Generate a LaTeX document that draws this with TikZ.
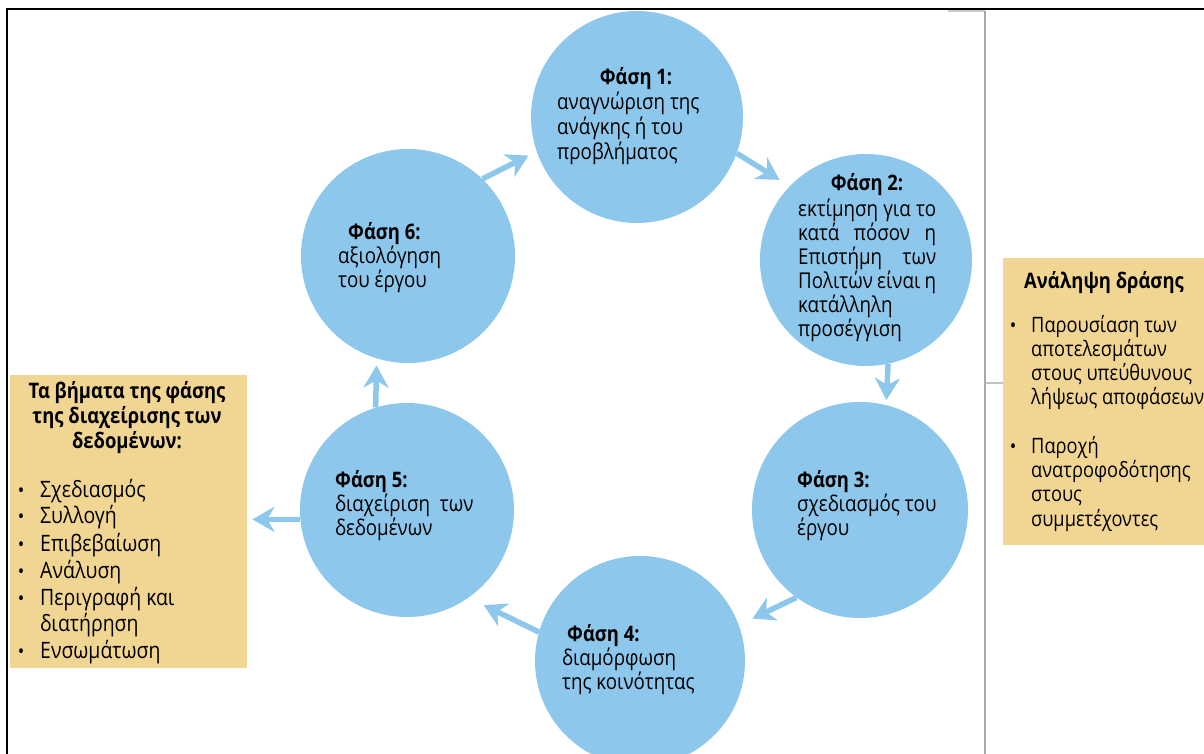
\documentclass[tikz,border=0pt]{standalone}
\usepackage{fontspec}
\setmainfont[FakeStretch=0.86]{Open Sans}
\usetikzlibrary{arrows.meta}
\definecolor{cblue}{RGB}{141,199,236}
\definecolor{boxy}{RGB}{241,213,146}
\definecolor{frameg}{RGB}{168,168,168}
\begin{document}
\begin{tikzpicture}[x=1pt,y=-1pt,
  phase/.style={circle,fill=cblue,inner sep=0pt,minimum size=#1},
  ybox/.style={rectangle,fill=boxy,inner sep=0pt,anchor=north west},
  ctext/.style={font=\fontsize{21.8}{24}\selectfont,inner sep=0pt,anchor=base west},
  ctitle/.style={font=\bfseries\fontsize{21.4}{24}\selectfont,inner sep=0pt,anchor=base west},
  btext/.style={font=\fontsize{22.6}{24}\selectfont,inner sep=0pt,anchor=base west},
  rtext/.style={font=\fontsize{21.2}{24}\selectfont,inner sep=0pt,anchor=base west},
  btitle/.style={font=\bfseries\fontsize{21.4}{24}\selectfont,inner sep=0pt,anchor=base},
  bul/.style={font=\fontsize{20}{22}\selectfont,inner sep=0pt,anchor=base},
  arr/.style={draw=cblue,line width=5.5pt,-{Stealth[length=22pt,width=25pt,inset=7pt,fill=cblue]}},
]
\useasboundingbox (0,0) rectangle (1204,754);
\fill[white] (0,0) rectangle (1204,754);
% frame
\draw[line width=2pt,black] (7,754) -- (7,9) -- (1204,9);
\draw[line width=2pt,frameg!60] (948,11.5) -- (985,11.5);
\draw[line width=1.5pt,frameg] (985,11) -- (985,754);
\draw[line width=1.2pt,frameg!70] (985,383) -- (1003,383);
% boxes
\node[ybox,minimum width=237pt,minimum height=293pt] (lbox) at (10,375) {};
\node[ybox,minimum width=215pt,minimum height=287pt] (rbox) at (1003,258) {};
% circles
\node[phase=212pt] (c1) at (637,117) {};
\node[phase=212pt] (c2) at (866,260) {};
\node[phase=216pt] (c3) at (860,510) {};
\node[phase=210pt] (c4) at (640,661) {};
\node[phase=214pt] (c5) at (407,510) {};
\node[phase=214pt] (c6) at (408,256) {};
% arrows
\draw[arr,shorten >=12pt] (c1.-20) -- (c2.136);
\draw[arr,shorten >=5pt] (c2.-78) -- (c3.76);
\draw[arr,shorten >=15pt] (c3.-126) -- (c4.20);
\draw[arr,shorten >=17pt] (c4.164) -- (c5.-55);
\draw[arr,shorten >=7pt] (c5.107) -- (c6.-107);
\draw[arr,shorten >=9pt] (c6.46.5) -- (c1.199);
\draw[arr,shorten >=5pt] (c5.185) -- (c5.185 -| lbox.east);
% phase 1
\node[ctitle,anchor=base] (t1) at (636,85) {Φάση 1:};
\foreach \s [count=\i] in {αναγνώριση της,ανάγκης ή του,προβλήματος}
  \node[ctext] (p1l\i) at (557,85+24.7*\i) {\s};
% phase 2
\node[ctitle,anchor=base] (t2) at (867,191) {Φάση 2:};
\node[ctext] (p2l1) at (798,216) {\makebox[138pt][s]{εκτίμηση για το}};
\node[ctext] (p2l2) at (798,240) {\makebox[138pt][s]{κατά πόσον η}};
\node[ctext] (p2l3) at (798,264) {\makebox[138pt][s]{Επιστήμη των}};
\node[ctext] (p2l4) at (798,288) {\makebox[138pt][s]{Πολιτών είναι η}};
\node[ctext] (p2l5) at (798,312) {κατάλληλη};
\node[ctext] (p2l6) at (798,336) {προσέγγιση};
% phase 3
\node[ctitle] (t3) at (797,487) {Φάση 3:};
\node[ctext] (p3l1) at (797,511) {σχεδιασμός του};
\node[ctext] (p3l2) at (797,535) {έργου};
% phase 4
\node[ctitle] (t4) at (567,641) {Φάση 4:};
\node[ctext] (p4l1) at (562,665) {διαμόρφωση};
\node[ctext] (p4l2) at (562,689) {της κοινότητας};
% phase 5
\node[ctitle] (t5) at (335,487) {Φάση 5:};
\node[ctext] (p5l1) at (335,511) {διαχείριση\hspace{5pt} των};
\node[ctext] (p5l2) at (335,535) {δεδομένων};
% phase 6
\node[ctitle] (t6) at (348,239) {Φάση 6:};
\node[ctext] (p6l1) at (338,263) {αξιολόγηση};
\node[ctext] (p6l2) at (338,287) {του έργου};
% left box
\node[btitle] (lt1) at (127,398) {Τα βήματα της φάσης};
\node[btitle] (lt2) at (127,423) {της διαχείρισης των};
\node[btitle] (lt3) at (127,448) {δεδομένων:};
\foreach \s/\y/\b [count=\i] in {Σχεδιασμός/497/1,Συλλογή/523/1,Επιβεβαίωση/551/1,Ανάλυση/578/1,Περιγραφή και/605/1,διατήρηση/631/0,Ενσωμάτωση/658/1}{
  \node[btext] (li\i) at (40,\y) {\s};
  \ifnum\b=1 \node[bul] (lb\i) at (21,\y) {\textbullet}; \fi
}
% right box
\node[btitle] (rt) at (1104,288) {Ανάληψη δράσης};
\foreach \s/\y/\b [count=\i] in {Παρουσίαση των/332/1,αποτελεσμάτων/356/0,στους υπεύθυνους/380/0,λήψεως αποφάσεων/404/0,Παροχή/453/1,ανατροφοδότησης/477/0,στους/501/0,συμμετέχοντες/526/0}{
  \node[rtext] (ri\i) at (1031,\y) {\s};
  \ifnum\b=1 \node[bul] (rb\i) at (1013,\y) {\textbullet}; \fi
}
\end{tikzpicture}
\end{document}
